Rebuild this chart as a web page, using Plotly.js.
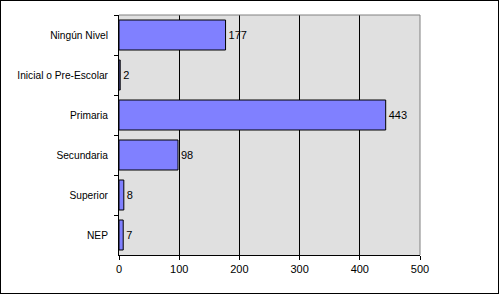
<!DOCTYPE html>
<html><head><meta charset="utf-8">
<script src="https://cdn.plot.ly/plotly-3.0.1.min.js"></script>
<style>
html,body{margin:0;padding:0;background:#fff;}
#wrap{position:relative;width:499px;height:294px;}
#chart{width:499px;height:294px;}
#frame{position:absolute;left:0;top:0;width:499px;height:294px;box-sizing:border-box;border:1px solid #000;pointer-events:none;}
</style></head>
<body>
<div id="wrap"><div id="chart"></div><div id="frame"></div></div>
<script>
const categories = ["Ningún Nivel", "Inicial o Pre-Escolar", "Primaria", "Secundaria", "Superior", "NEP"];
const values = [177, 2, 443, 98, 8, 7];
const xTicks = [0, 100, 200, 300, 400, 500];

const trace = {
  type: 'bar',
  orientation: 'h',
  y: categories,
  x: values,
  text: values.map(String),
  textposition: 'outside',
  cliponaxis: false,
  textfont: {family: 'Liberation Sans, Arial, sans-serif', size: 11, color: '#000'},
  marker: {color: '#8080ff', line: {color: '#000', width: 1}},
  width: 0.75,
  hoverinfo: 'none'
};

const layout = {
  width: 499, height: 294,
  margin: {l: 119, r: 79, t: 15, b: 39, pad: 0},
  paper_bgcolor: '#fff',
  plot_bgcolor: '#e0e0e0',
  font: {family: 'Liberation Sans, Arial, sans-serif', size: 11, color: '#000'},
  showlegend: false,
  bargap: 0.25,
  xaxis: {
    range: [0, 500],
    tickvals: xTicks,
    ticktext: xTicks.map(String),
    showgrid: true, gridcolor: '#000', gridwidth: 1,
    zeroline: false,
    showline: true, linecolor: '#000', linewidth: 1,
    ticks: 'outside', ticklen: 4, tickcolor: '#000',
    fixedrange: true
  },
  yaxis: {
    type: 'category',
    autorange: 'reversed',
    showgrid: false, zeroline: false,
    showline: true, linecolor: '#000', linewidth: 1,
    ticks: 'outside', ticklen: 4, tickcolor: '#000',
    tickson: 'boundaries',
    tickfont: {size: 10.2},
    ticklabelstandoff: 8,
    fixedrange: true
  },
  shapes: [
    {type: 'line', xref: 'paper', yref: 'paper', x0: 0, x1: 1, y0: 1, y1: 1, line: {color: '#808080', width: 1}, layer: 'above'},
    {type: 'line', xref: 'paper', yref: 'paper', x0: 1, x1: 1, y0: 0, y1: 1, line: {color: '#808080', width: 1}, layer: 'above'}
  ]
};

Plotly.newPlot('chart', [trace], layout, {displayModeBar: false, staticPlot: true});
</script>
</body></html>
